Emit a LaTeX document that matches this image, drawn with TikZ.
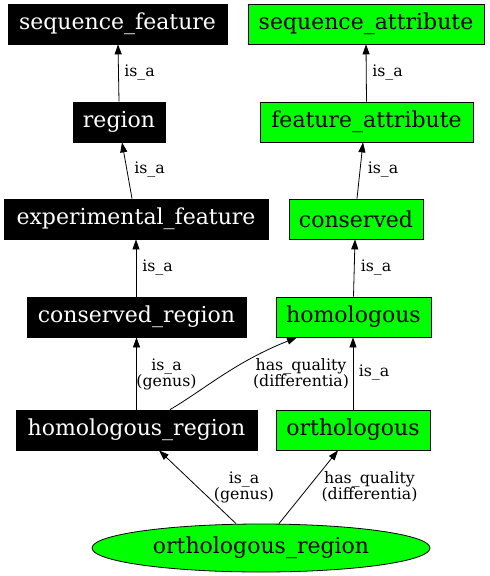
\documentclass[tikz,border=0pt]{standalone}
\usepackage{fontspec}
\setmainfont{DejaVu Serif}
\usetikzlibrary{arrows.meta,shapes.geometric}
\definecolor{gv}{HTML}{00FF00}
\tikzset{
  bnode/.style={draw=black,fill=black,text=white,line width=0.8pt,inner sep=0pt,minimum height=40pt,font=\fontsize{22}{25}\selectfont},
  gnode/.style={draw=black,fill=gv,text=black,line width=0.8pt,inner sep=0pt,minimum height=40pt,font=\fontsize{22}{25}\selectfont},
  lbl/.style={inner sep=0pt,align=center,font=\fontsize{15.8}{16}\selectfont},
  arr/.style={line width=0.8pt,-{Triangle[length=10pt,width=7pt]}}
}
\begin{document}
\begin{tikzpicture}[x=1pt,y=-1pt]
\useasboundingbox (0,0) rectangle (490,576);
\node[bnode,minimum width=219pt] (sf) at (117.5,24) {sequence\_feature};
\node[bnode,minimum width=92pt] (rg) at (119,122) {region};
\node[bnode,minimum width=264pt] (ef) at (136,219) {experimental\_feature};
\node[bnode,minimum width=219pt] (cr) at (136.5,317) {conserved\_region};
\node[bnode,minimum width=241pt] (hr) at (136.5,430) {homologous\_region};
\node[gnode,minimum width=236pt] (sa) at (366,24) {sequence\_attribute};
\node[gnode,minimum width=213pt] (fa) at (366.5,122) {feature\_attribute};
\node[gnode,minimum width=134pt] (co) at (356,219) {conserved};
\node[gnode,minimum width=155pt] (ho) at (353.5,317) {homologous};
\node[gnode,minimum width=154pt] (or) at (353,430) {orthologous};
\node[ellipse,draw=black,fill=gv,line width=0.8pt,inner sep=0pt,minimum width=338pt,minimum height=48pt,font=\fontsize{22}{25}\selectfont] (orr) at (261,548) {orthologous\_region};

\draw[arr] (rg.north) -- ([xshift=0.5]sf.south);
\draw[arr] ([xshift=-4]ef.north) -- ([xshift=3]rg.south);
\draw[arr] ([xshift=-0.5]cr.north) -- (ef.south);
\draw[arr] (hr.north) -- (cr.south);
\draw[arr] ([xshift=33.5]hr.north) .. controls (205,389) and (235,362) .. ([xshift=-56.5]ho.south);
\draw[arr] ([xshift=-25]orr.north) -- ([xshift=22.5]hr.south);
\draw[arr] ([xshift=18]orr.north) -- ([xshift=-15]or.south);
\draw[arr] (or.north) -- ([xshift=-0.5]ho.south);
\draw[arr] (ho.north) -- ([xshift=-1]co.south);
\draw[arr] ([xshift=1]co.north) -- ([xshift=-3.5]fa.south);
\draw[arr] (fa.north) -- (sa.south);

\node[lbl] (l1) at (139.5,73) {is\_a};
\node[lbl] (l2) at (149.5,170) {is\_a};
\node[lbl] (l3) at (157.5,268) {is\_a};
\node[lbl] (l4) at (166.5,374) {is\_a\\(genus)};
\node[lbl] (l5) at (301,374) {has\_quality\\(differentia)};
\node[lbl] (l6) at (374,373) {is\_a};
\node[lbl] (l7) at (244,487) {is\_a\\(genus)};
\node[lbl] (l8) at (369.5,487) {has\_quality\\(differentia)};
\node[lbl] (l9) at (387.5,73) {is\_a};
\node[lbl] (l10) at (383,170) {is\_a};
\node[lbl] (l11) at (376,268) {is\_a};
\end{tikzpicture}
\end{document}
